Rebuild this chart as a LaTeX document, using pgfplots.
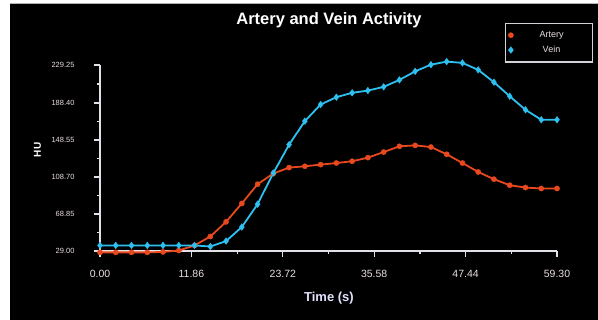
\documentclass[border=0pt]{standalone}
\usepackage{pgfplots}
\pgfplotsset{compat=1.18}
\usepackage{fontspec}
\setmainfont{Liberation Sans}
\definecolor{artery}{RGB}{232,72,30}
\definecolor{vein}{RGB}{45,192,240}
\definecolor{ticktxt}{RGB}{235,222,228}
\definecolor{axline}{RGB}{225,225,232}

\pgfplotstableread{
x y
0.000 27.5
2.045 27.5
4.090 27.5
6.134 27.5
8.179 28.0
10.224 29.5
12.269 35.0
14.314 44.6
16.359 60.4
18.403 80.2
20.448 100.9
22.493 112.4
24.538 118.8
26.583 120.2
28.628 122.0
30.672 123.7
32.717 125.6
34.762 129.5
36.807 135.5
38.852 141.7
40.897 142.7
42.941 140.9
44.986 133.1
47.031 123.7
49.076 114.1
51.121 106.3
53.166 99.8
55.210 97.3
57.255 96.3
59.300 96.3
}\artery

\pgfplotstableread{
x y
0.000 35.0
2.045 35.0
4.090 35.0
6.134 35.0
8.179 35.0
10.224 35.0
12.269 35.0
14.314 33.8
16.359 39.7
18.403 54.8
20.448 79.4
22.493 113.0
24.538 143.5
26.583 168.8
28.628 186.7
30.672 194.6
32.717 199.3
34.762 201.7
36.807 205.7
38.852 213.2
40.897 222.4
42.941 229.6
44.986 232.9
47.031 231.5
49.076 224.0
51.121 210.7
53.166 195.6
55.210 181.0
57.255 170.3
59.300 170.3
}\vein

\begin{document}
\begin{tikzpicture}
\path[use as bounding box] (0pt,0pt) rectangle (598pt,320pt);
\fill[white] (0pt,0pt) rectangle (598pt,320pt);
\fill[black] (10pt,0pt) rectangle (598pt,316pt);
\draw[gray!60,line width=1pt] (10pt,316pt) -- (598pt,316pt);
\node[text=white,font=\bfseries\fontsize{16.5}{18}\selectfont] at (329pt,300pt) {Artery and Vein Activity};
\begin{axis}[
 at={(100pt,69pt)}, anchor=south west, scale only axis, width=457pt, height=186pt,
 xmin=0, xmax=59.3, ymin=29, ymax=229.25,
 clip=false,
 axis lines*=left, axis line style={axline, line width=1.2pt},
 tick align=outside, major tick length=6pt, minor tick length=3pt,
 every tick/.style={axline, line width=1.2pt},
 xtick={0,11.86,23.72,35.58,47.44,59.30},
 xticklabels={0.00,11.86,23.72,35.58,47.44,59.30},
 ytick={29,68.85,108.70,148.55,188.40,229.25},
 yticklabels={29.00,68.85,108.70,148.55,188.40,229.25},
 minor xtick={5.93,17.79,29.65,41.51,53.37},
 minor ytick={48.925,88.775,128.625,168.475,208.825},
 /pgf/number format/assume math mode=true,
 xticklabel style={font=\fontsize{10.5}{12}\selectfont, text=ticktxt, yshift=-10pt},
 yticklabel style={font=\fontsize{7.5}{9}\selectfont, text=ticktxt, xshift=-16pt},
 xlabel={Time (s)},
 ylabel={HU},
 xlabel style={font=\bfseries\fontsize{13}{15}\selectfont, text=white!88!blue, at={(axis description cs:0.501,-0.253)}, anchor=center},
 ylabel style={font=\bfseries\fontsize{10}{12}\selectfont, text=white, at={(axis description cs:-0.137,0.543)}, anchor=center},
 legend style={at={(axis description cs:1.079,1.227)}, anchor=north east, fill=black, draw=axline!85!gray, line width=1.2pt, text=ticktxt, font=\fontsize{9}{10}\selectfont, inner xsep=3pt, inner ysep=6pt, row sep=3pt, nodes={text width=72pt, align=center}},
 legend image code/.code={\draw[#1] plot[only marks] coordinates {(5pt,0pt)};},
]
\addplot[artery, line width=1.8pt, mark=*, mark size=2.6pt, mark options={fill=artery, draw=artery, line width=0.4pt}] table[x=x,y=y] {\artery};
\addlegendentry{Artery}
\addplot[vein, line width=1.8pt, mark=diamond*, mark size=3.3pt, mark options={fill=vein, draw=vein, line width=0.4pt}] table[x=x,y=y] {\vein};
\addlegendentry{Vein}
\end{axis}
\end{tikzpicture}
\end{document}
